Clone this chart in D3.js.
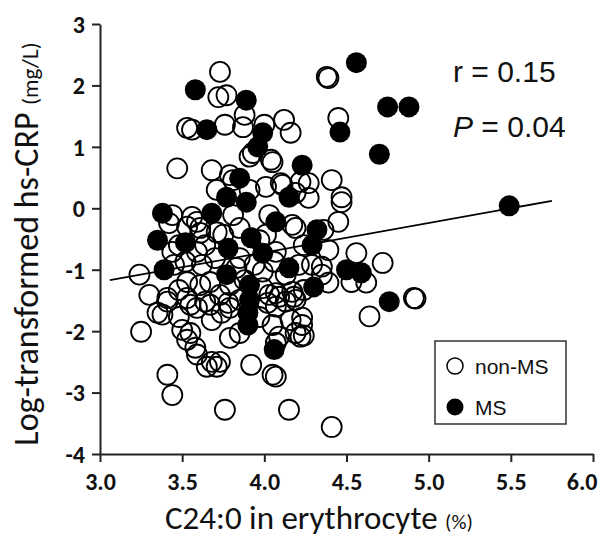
<!DOCTYPE html>
<html><head><meta charset="utf-8">
<script src="https://cdn.jsdelivr.net/npm/d3@7"></script>
<style>
body{margin:0;background:#fff;}
svg{display:block;}
</style></head>
<body>
<svg id="chart" width="599" height="538"></svg>
<script>
// ---- data (C24:0 %, log hs-CRP) ----
const nonMS_x = [3.73,3.72,3.77,3.88,3.87,3.76,3.53,3.56,3.91,4.04,4.00,4.12,4.16,3.47,3.68,3.79,4.01,4.11,4.22,4.19,3.91,3.71,
4.38,4.39,4.45,4.27,4.41,4.47,4.47,4.45,4.56,4.72,4.27,4.19,4.21,4.35,4.29,4.35,4.17,4.23,4.62,4.53,4.39,4.64,4.91,4.92,
4.07,4.19,4.07,4.16,4.23,4.22,4.07,4.07,4.15,4.41,3.24,3.25,3.41,3.44,3.76,
3.35,3.41,3.48,3.50,3.55,3.53,3.58,3.59,3.68,3.71,3.73,3.65,3.92,4.05,3.59,3.64,3.74,3.78,3.79,3.85,4.09,4.05,3.97,4.02,4.09,4.19,4.18,3.68,3.53,
3.42,3.59,3.44,3.52,3.59,3.61,3.71,3.62,3.53,3.67,3.79,3.83,3.75,3.85,3.81,4.03,4.01,4.07,4.13,3.99,4.03,3.30,3.41,3.38,3.67,3.79,4.13,3.55,4.17,
3.44,3.56,3.53,3.61,3.93,4.05,3.81,4.10,
3.48,3.64,3.70,3.85,3.94,4.06,3.61,3.88,3.99,3.48,3.73,3.85,3.97,3.45,4.24,4.24,4.39,4.36,4.24];
const nonMS_y = [2.22,1.81,1.84,1.52,1.32,1.36,1.31,1.28,0.84,0.79,1.36,1.44,1.23,0.65,0.62,0.54,0.35,0.38,0.43,0.25,0.30,0.30,
2.14,2.12,1.47,0.41,0.46,0.18,0.10,-0.22,-0.73,-0.89,0.17,-0.32,-0.92,-0.95,-0.92,-1.08,-1.36,-1.78,-1.21,-1.20,-1.21,-1.76,-1.46,-1.47,
-1.38,-1.49,-1.60,-1.82,-1.90,-2.09,-2.19,-2.74,-3.28,-3.56,-1.08,-2.01,-2.71,-3.04,-3.28,
-1.70,-1.52,-1.77,-1.98,-2.03,-2.14,-2.27,-2.38,-2.50,-2.58,-2.50,-2.58,-2.55,-2.71,-1.62,-1.52,-1.70,-1.54,-2.11,-2.03,-2.09,-1.90,-1.77,-1.54,-1.44,-2.03,-1.44,-1.82,-1.46,
-0.24,-0.22,-0.71,-0.87,-0.71,-0.32,-0.39,-0.92,-1.20,-1.20,-1.25,-0.97,-0.43,-0.32,-0.11,-0.11,-0.43,-0.71,-1.08,-1.03,-1.41,-1.41,-1.46,-1.73,-1.57,-1.62,-1.52,-1.57,-0.27,
-0.11,-0.14,-0.30,-0.40,0.90,0.75,0.46,0.41,
-0.60,-0.60,-0.81,-0.81,-0.92,-0.87,-1.25,-1.17,-1.30,-1.33,-1.41,-1.49,-0.52,-0.92,-0.60,-1.33,-0.68,-0.35,-2.07];
const ms_x = [4.56,3.58,3.89,3.65,3.99,3.96,4.46,4.75,4.88,4.70,4.23,5.49,3.85,4.15,3.77,3.89,3.38,3.68,4.07,3.35,3.52,3.78,3.92,3.99,3.39,3.77,4.15,4.32,4.29,4.30,4.50,4.59,4.76,3.91,3.91,3.90,3.90,4.06];
const ms_y = [2.37,1.93,1.76,1.28,1.23,1.00,1.24,1.65,1.65,0.88,0.70,0.04,0.49,0.18,0.18,0.10,-0.08,-0.08,-0.22,-0.52,-0.56,-0.65,-0.48,-0.73,-1.00,-1.08,-0.97,-0.35,-0.60,-1.28,-1.00,-1.05,-1.52,-1.25,-1.49,-1.70,-1.90,-2.30];
const regX = [3.06, 5.75];
const regY = [-1.17, 0.12];
const xTicks = [3.0,3.5,4.0,4.5,5.0,5.5,6.0];
const yTicks = [-4,-3,-2,-1,0,1,2,3];
const statsText = ["r = 0.15", "P = 0.04"];
const legendLabels = ["non-MS", "MS"];

const W = 599;
const svg = d3.select("#chart");
const x = d3.scaleLinear().domain([3,6]).range([100,593]);
const y = d3.scaleLinear().domain([-4,3]).range([454,24]);
const labelFont = "Carlito, Lato, 'Open Sans', sans-serif";
const arial = "'Liberation Sans', Arial, sans-serif";

// axes
const gx = svg.append("g").attr("transform","translate(0,454)")
  .call(d3.axisBottom(x).tickValues(xTicks).tickFormat(d3.format(".1f")).tickSize(8).tickSizeOuter(0));
const gy = svg.append("g").attr("transform","translate(100,0)")
  .call(d3.axisLeft(y).tickValues(yTicks).tickFormat(d3.format("d")).tickSize(8).tickSizeOuter(0));
[gx,gy].forEach(g=>{
  g.select(".domain").attr("stroke","#222").attr("stroke-width",2);
  g.selectAll(".tick line").attr("stroke","#222").attr("stroke-width",2);
  g.selectAll(".tick text").attr("fill","#111").style("font-family",labelFont)
   .style("font-weight","900").style("font-size","24px");
});
gx.selectAll(".tick text").attr("y",19);
// keep the last x label inside the picture
gx.selectAll(".tick text").each(function(d){
  const t = d3.select(this);
  const w = this.getComputedTextLength();
  const over = x(d) + w/2 - (W-2);
  if (over > 0) t.attr("x", -over);
});
gy.selectAll(".tick text").attr("x",-15).attr("dy","0.35em");
gy.selectAll(".tick text").text(d=> d<0 ? "-"+Math.abs(d) : d);

// axis titles
const xt = svg.append("text").attr("x",165).attr("y",529)
  .style("font-family",labelFont).style("font-size","33px").attr("fill","#111");
xt.append("tspan").text("C24:0 in erythrocyte ");
xt.append("tspan").style("font-size","21px").text("(%)");

const yt = svg.append("text").attr("transform","translate(38,244) rotate(-90)")
  .attr("text-anchor","middle")
  .style("font-family",labelFont).style("font-size","34px").attr("fill","#111");
yt.append("tspan").text("Log-transformed hs-CRP ");
yt.append("tspan").style("font-size","23px").text("(mg/L)");

// points
const open = nonMS_x.map((v,i)=>({x:v,y:nonMS_y[i]}));
const filled = ms_x.map((v,i)=>({x:v,y:ms_y[i]}));
svg.append("g").selectAll("circle").data(open).join("circle")
  .attr("cx",d=>x(d.x)).attr("cy",d=>y(d.y)).attr("r",10)
  .attr("fill","none").attr("stroke","#000").attr("stroke-width",1.8);
svg.append("line")
  .attr("x1",x(regX[0])).attr("y1",y(regY[0]))
  .attr("x2",x(regX[1])).attr("y2",y(regY[1]))
  .attr("stroke","#000").attr("stroke-width",1.8);
svg.append("g").selectAll("circle").data(filled).join("circle")
  .attr("cx",d=>x(d.x)).attr("cy",d=>y(d.y)).attr("r",10.5)
  .attr("fill","#000");

// stats
const st = svg.append("g").style("font-family",arial).style("font-size","30px").attr("fill","#111");
st.append("text").attr("x",453).attr("y",82).text(statsText[0]);
const pt = st.append("text").attr("x",453).attr("y",137);
pt.append("tspan").style("font-style","italic").text(statsText[1].slice(0,1));
pt.append("tspan").text(statsText[1].slice(1));

// legend
const lg = svg.append("g");
lg.append("rect").attr("x",435).attr("y",341).attr("width",131).attr("height",83)
  .attr("fill","#fff").attr("stroke","#333").attr("stroke-width",1.5);
lg.append("circle").attr("cx",455).attr("cy",366).attr("r",8)
  .attr("fill","none").attr("stroke","#000").attr("stroke-width",1.5);
lg.append("circle").attr("cx",455).attr("cy",407).attr("r",8.5).attr("fill","#000");
lg.selectAll("text").data(legendLabels).join("text")
  .attr("x",475).attr("y",(d,i)=> i===0 ? 374 : 415)
  .style("font-family",arial).style("font-size","21px").attr("fill","#111").text(d=>d);
</script>
</body></html>
